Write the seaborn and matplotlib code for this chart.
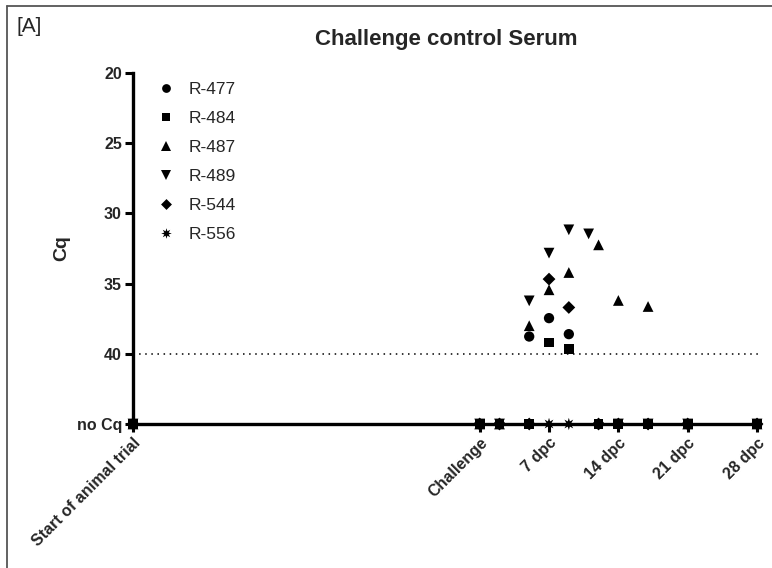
import numpy as np
import pandas as pd
import matplotlib
matplotlib.use("Agg")
import matplotlib.pyplot as plt
import seaborn as sns
from matplotlib.lines import Line2D
from matplotlib.path import Path

sns.set_theme(style="white")
plt.rcParams['font.family'] = ['Liberation Sans', 'DejaVu Sans']

NO_CQ = 45
animals = ["R-477", "R-484", "R-487", "R-489", "R-544", "R-556"]

# custom diamond and 8-arm asterisk-like star
diamond = Path([(0, 1), (1, 0), (0, -1), (-1, 0), (0, 1)],
               [Path.MOVETO, Path.LINETO, Path.LINETO, Path.LINETO, Path.CLOSEPOLY])
_star_v = []
for k in range(16):
    ang = np.pi / 2 + k * np.pi / 8
    r = 1.0 if k % 2 == 0 else 0.45
    _star_v.append((r * np.cos(ang), r * np.sin(ang)))
_star_v.append(_star_v[0])
star = Path(_star_v, [Path.MOVETO] + [Path.LINETO] * 15 + [Path.CLOSEPOLY])

markers = {"R-477": "o", "R-484": "s", "R-487": "^", "R-489": "v",
           "R-544": diamond, "R-556": star}
marker_sizes = {"R-477": 55, "R-484": 50, "R-487": 60, "R-489": 60,
                "R-544": 85, "R-556": 80}

# days relative to challenge; Cq values (45 = no Cq)
r477_days = [-35, 0, 2, 5, 7, 9, 12, 14, 17, 21, 28]
r477_cq = [NO_CQ, NO_CQ, NO_CQ, 38.77, 37.46, 38.6, NO_CQ, NO_CQ, NO_CQ, NO_CQ, NO_CQ]
r484_days = [-35, 0, 2, 5, 7, 9, 12, 14, 17, 21, 28]
r484_cq = [NO_CQ, NO_CQ, NO_CQ, NO_CQ, 39.2, 39.67, NO_CQ, NO_CQ, NO_CQ, NO_CQ, NO_CQ]
r487_days = [-35, 0, 2, 5, 7, 9, 12, 14, 17, 21, 28]
r487_cq = [NO_CQ, NO_CQ, NO_CQ, 38.0, 35.44, 34.21, 32.24, 36.2, 36.63, NO_CQ, NO_CQ]
r489_days = [-35, 0, 2, 5, 7, 9, 11, 14, 17, 21, 28]
r489_cq = [NO_CQ, NO_CQ, NO_CQ, 36.23, 32.83, 31.17, 31.46, NO_CQ, NO_CQ, NO_CQ, NO_CQ]
r544_days = [-35, 0, 2, 5, 7, 9, 12, 14, 17, 21, 28]
r544_cq = [NO_CQ, NO_CQ, NO_CQ, NO_CQ, 34.68, 36.7, NO_CQ, NO_CQ, NO_CQ, NO_CQ, NO_CQ]
r556_days = [-35, 0, 2, 5, 7, 9, 12, 14, 17, 21, 28]
r556_cq = [NO_CQ] * 11

series = [(r477_days, r477_cq), (r484_days, r484_cq), (r487_days, r487_cq),
          (r489_days, r489_cq), (r544_days, r544_cq), (r556_days, r556_cq)]

xtick_pos = [-35, 0, 7, 14, 21, 28]
xtick_labels = ["Start of animal trial", "Challenge", "7 dpc", "14 dpc", "21 dpc", "28 dpc"]
ytick_pos = [20, 25, 30, 35, 40, 45]
ytick_labels = ["20", "25", "30", "35", "40", "no Cq"]

rows = []
for a, (d, c) in zip(animals, series):
    for dd, cc in zip(d, c):
        rows.append({"day": dd, "Cq": cc, "animal": a})
df = pd.DataFrame(rows)

fig = plt.figure(figsize=(7.72, 5.68), dpi=100)
ax = fig.add_axes([133/772, 1-424/568, (760-133)/772, (424-73)/568])

sns.scatterplot(data=df, x="day", y="Cq", style="animal", markers=markers,
                style_order=animals, size="animal", sizes=marker_sizes,
                size_order=animals, color="black", linewidth=0,
                ax=ax, clip_on=False, zorder=5)

ax.axhline(40, color="black", linestyle=(0, (1, 3)), linewidth=1.1, zorder=1)

ax.set_xlim(-35, 28.3)
ax.set_ylim(45, 20)
for s in ["top", "right"]:
    ax.spines[s].set_visible(False)
for s in ["left", "bottom"]:
    ax.spines[s].set_linewidth(2.4)
    ax.spines[s].set_color("black")
ax.set_xticks(xtick_pos)
ax.set_xticklabels(xtick_labels, rotation=45, ha="right", rotation_mode="anchor",
                   fontsize=11.5, fontweight="bold")
ax.set_yticks(ytick_pos)
ax.set_yticklabels(ytick_labels, fontsize=11.5, fontweight="bold")
ax.tick_params(axis="both", direction="out", length=6, width=2.2, color="black",
               left=True, bottom=True, pad=2)
ax.set_xlabel("")
ax.set_ylabel("Cq", fontsize=14, fontweight="bold")
ax.yaxis.set_label_coords(-0.1005, 0.50)
ax.grid(False)

leg = ax.legend(loc="upper left", bbox_to_anchor=(0.0, 1.019), frameon=False,
                fontsize=12.5, handletextpad=0.3, labelspacing=0.8, markerscale=0.85)

fig.text(446/772, 1-40/568, "Challenge control Serum", ha="center", va="center",
         fontsize=16, fontweight="bold")
fig.text(17/772, 1-26/568, "[A]", ha="left", va="center", fontsize=15)

fig.add_artist(Line2D([7/772, 7/772], [0, 1-6/568], transform=fig.transFigure,
                      color="#555555", linewidth=1.3))
fig.add_artist(Line2D([7/772, 1], [1-6/568, 1-6/568], transform=fig.transFigure,
                      color="#555555", linewidth=1.3))

fig.savefig("out.png", dpi=100)
